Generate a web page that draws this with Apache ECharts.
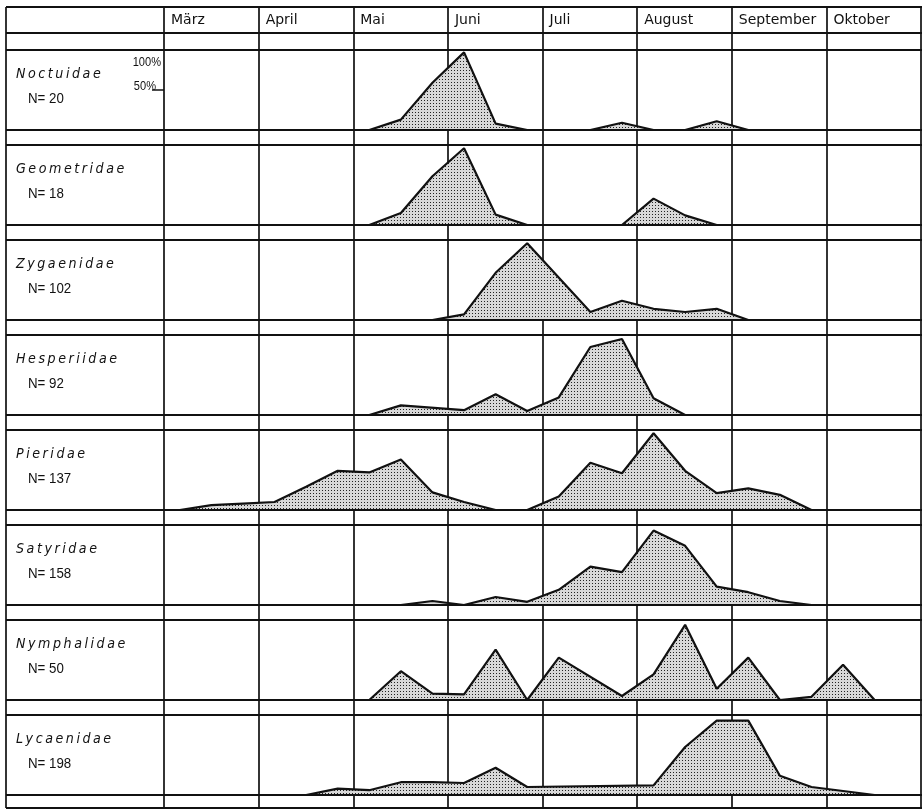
<!DOCTYPE html>
<html>
<head>
<meta charset="utf-8">
<script src="https://cdn.jsdelivr.net/npm/echarts@6/dist/echarts.min.js"></script>
<style>
  html, body { margin: 0; padding: 0; background: #fff; }
  #chart { width: 924px; height: 811px; }
</style>
</head>
<body>
<div id="chart"></div>
<script>
// Month columns, each split into three ten-day periods (decades)
const months = ['März', 'April', 'Mai', 'Juni', 'Juli', 'August', 'September', 'Oktober'];
const families = ['Noctuidae', 'Geometridae', 'Zygaenidae', 'Hesperiidae', 'Pieridae', 'Satyridae', 'Nymphalidae', 'Lycaenidae'];
const sampleSizes = [20, 18, 102, 92, 137, 158, 50, 198];

// Relative abundance (% of peak) per decade; index 0 = first decade of März, null = no point
const noctuidae   = [null, null, null, null, null, null, 0, 13, 59, 97, 8, 0, null, 0, 9, 0, 0, 11, 0, null, null, null, null, null];
const geometridae = [null, null, null, null, null, null, 0, 15, 61, 96, 13, 0, null, null, 0, 33, 12, 0, null, null, null, null, null, null];
const zygaenidae  = [null, null, null, null, null, null, null, null, 0, 7, 59, 96, null, 10, 24, 14, 10, 14, 0, null, null, null, null, null];
const hesperiidae = [null, null, null, null, null, null, 0, 12, null, 6, 26, 5, 22, 85, 95, 21, 0, null, null, null, null, null, null, null];
const pieridae    = [0, 6, 8, 10, 29, 49, 47, 63, 22, 10, 0, 0, 17, 59, 46, 96, 49, 21, 27, 19, 0, null, null, null];
const satyridae   = [null, null, null, null, null, null, null, 0, 5, 0, 10, 4, 19, 48, 41, 93, 74, 23, 16, 5, 0, null, null, null];
const nymphalidae = [null, null, null, null, null, null, 0, 36, 8, 7, 63, 0, 53, null, 5, 32, 94, 14, 53, 0, 4, 44, 0, null];
const lycaenidae  = [null, null, null, null, 0, 8, 6, 16, 16, 15, 34, 10, null, null, null, 12, 60, 93, 93, 24, 10, 5, 0, null];

const profiles = [noctuidae, geometridae, zygaenidae, hesperiidae, pieridae, satyridae, nymphalidae, lycaenidae];

// Table geometry
const L = { left: 6, right: 922, col0: 164, headTop: 7, headBottom: 33, rowTop: 50, pitch: 95, band: 80, bottom: 808 };
const INK = '#111';
const SANS = '"Liberation Sans", "DejaVu Sans"';

// Stipple fill for the areas
const dots = document.createElement('canvas');
dots.width = 3; dots.height = 3;
const g = dots.getContext('2d');
g.fillStyle = '#d8d8d8'; g.fillRect(0, 0, 3, 3);
g.fillStyle = '#222'; g.fillRect(1, 1, 1, 1);

const rowTop = k => L.rowTop + k * L.pitch;
const tableWidth = L.right - L.col0;

const grid = [], xAxis = [], yAxis = [], series = [];
profiles.forEach((vals, k) => {
  grid.push({ left: L.col0, top: rowTop(k), width: tableWidth, height: L.band });
  xAxis.push({ gridIndex: k, type: 'value', min: 0, max: 24, show: false });
  yAxis.push(k === 0 ? {
    gridIndex: 0, type: 'value', min: 0, max: 100, show: true,
    axisLine: { show: false }, axisLabel: { show: false }, splitLine: { show: false },
    axisTick: { show: true, customValues: [50], length: 12, lineStyle: { color: INK, width: 1.5 } }
  } : { gridIndex: k, type: 'value', min: 0, max: 100, show: false });
  series.push({
    type: 'line', xAxisIndex: k, yAxisIndex: k, name: families[k],
    data: vals.map((v, i) => [i + 0.5, v]).filter(p => p[1] !== null),
    symbol: 'none', connectNulls: true, silent: true, z: 5,
    lineStyle: { color: INK, width: 2.2 },
    areaStyle: { color: { image: dots, repeat: 'repeat' }, opacity: 1 }
  });
});

// Full-height frame carrying the month columns and header labels
grid.push({ left: L.col0, top: L.headTop, width: tableWidth, height: L.bottom - L.headTop });
xAxis.push({
  gridIndex: 8, type: 'value', min: 0, max: 24, interval: 3, position: 'top',
  axisLine: { show: false }, axisTick: { show: false },
  splitLine: { show: true, lineStyle: { color: INK, width: 1.7 } },
  axisLabel: {
    inside: true, margin: 6, align: 'left', padding: [0, 0, 0, 7],
    fontSize: 14, fontFamily: 'DejaVu Sans', color: INK,
    formatter: v => months[v / 3] || ''
  }
});
yAxis.push({ gridIndex: 8, type: 'value', show: false });

// Ruled lines and row labels
const graphic = [];
const hLine = y => ({ type: 'line', z: 100, silent: true, shape: { x1: L.left, y1: y, x2: L.right, y2: y }, style: { stroke: INK, lineWidth: 2 } });
// Text placed at (x, y) and squeezed horizontally from its anchor
const label = (text, x, y, font, align, sx) => ({
  type: 'text', z: 100, silent: true, x, y, scaleX: sx,
  style: { text, x: 0, y: 0, font, fill: INK, align, verticalAlign: 'middle' }
});

graphic.push(hLine(L.headTop), hLine(L.headBottom), hLine(L.bottom));
graphic.push({ type: 'line', z: 100, silent: true, shape: { x1: L.left, y1: L.headTop, x2: L.left, y2: L.bottom }, style: { stroke: INK, lineWidth: 1.7 } });
families.forEach((name, k) => {
  const top = rowTop(k);
  graphic.push(hLine(top), hLine(top + L.band));
  graphic.push(label(name.split('').join('\u2009'), 16, top + 24, 'italic 13.5px "DejaVu Sans"', 'left', 0.94));
  graphic.push(label('N= ' + sampleSizes[k], 28, top + 49, '14px ' + SANS, 'left', 0.95));
});
// Scale key in the first row
graphic.push(label('100%', 161, rowTop(0) + 12, '13.5px ' + SANS, 'right', 0.82));
graphic.push(label('50%', 156, rowTop(0) + L.band / 2 - 4, '13.5px ' + SANS, 'right', 0.82));

const chart = echarts.init(document.getElementById('chart'), null, { renderer: 'canvas' });
chart.setOption({
  backgroundColor: '#fff',
  animation: false,
  grid, xAxis, yAxis, series, graphic
});
</script>
</body>
</html>
